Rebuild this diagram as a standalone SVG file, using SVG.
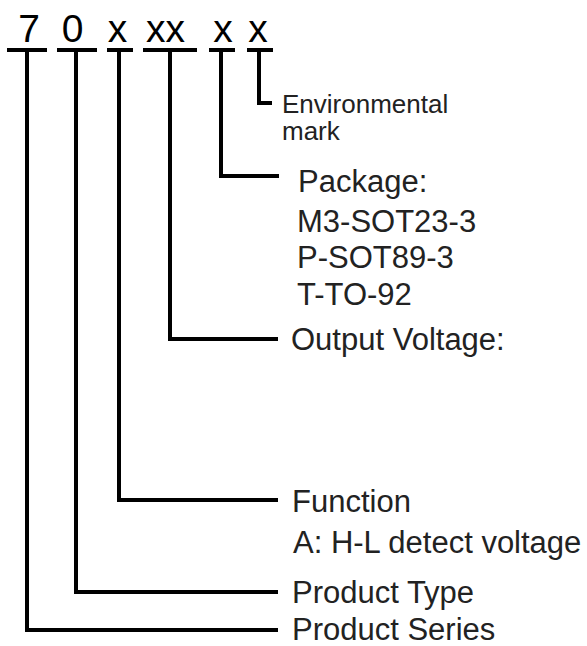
<svg xmlns="http://www.w3.org/2000/svg" width="587" height="646" viewBox="0 0 587 646">
<style>
.code{font-family:"Liberation Sans",Arial,sans-serif;font-size:39px;fill:#000;text-anchor:middle}
.lbl{font-family:"Liberation Sans",Arial,sans-serif;font-size:31px;fill:#222}
.sm{font-size:26px}
.ln{fill:none;stroke:#000;stroke-width:4;stroke-linecap:butt;stroke-linejoin:miter}
</style>
<rect width="587" height="646" fill="#fff"/>
<g id="code">
<text class="code" x="29" y="42">7</text>
<text class="code" x="72.5" y="42">0</text>
<text class="code" x="117.5" y="42">x</text>
<text class="code" x="165.5" y="42">xx</text>
<text class="code" x="223" y="42">x</text>
<text class="code" x="258" y="42">x</text>
<path class="ln" d="M7 50H47M57 50H97M107 50H133M143 50H197M209 50H235M247 50H273"/>
</g>
<g id="connectors">
<path class="ln" d="M259 50V103H272"/>
<path class="ln" d="M221 50V176H279"/>
<path class="ln" d="M170 50V339H278"/>
<path class="ln" d="M119 50V500H278"/>
<path class="ln" d="M76 50V592H278"/>
<path class="ln" d="M27 50V630H278"/>
</g>
<g id="env">
<text class="lbl sm" x="282" y="113">Environmental</text>
<text class="lbl sm" x="282" y="140">mark</text>
</g>
<g id="package">
<text class="lbl" x="298" y="192">Package:</text>
<text class="lbl" x="297" y="232">M3-SOT23-3</text>
<text class="lbl" x="297" y="268">P-SOT89-3</text>
<text class="lbl" x="297" y="305">T-TO-92</text>
</g>
<g id="voltage">
<text class="lbl" x="291" y="350">Output Voltage:</text>
</g>
<g id="function">
<text class="lbl" x="292" y="512">Function</text>
<text class="lbl" x="293" y="553">A: H-L detect voltage</text>
</g>
<g id="type">
<text class="lbl" x="292" y="603">Product Type</text>
</g>
<g id="series">
<text class="lbl" x="292" y="640">Product Series</text>
</g>
</svg>
